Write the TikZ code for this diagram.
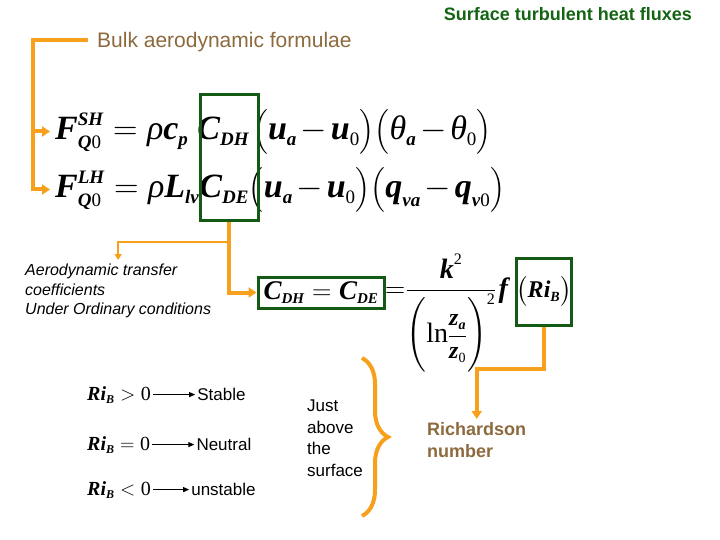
\RequirePackage{fix-cm}
\documentclass[tikz,border=0pt]{standalone}
\usepackage{amsmath}
\usepackage{fontspec}
\setmainfont{Liberation Sans}
\newfontfamily\tms{Liberation Serif}
\usetikzlibrary{arrows.meta,decorations.pathreplacing,positioning}

\definecolor{linkorange}{RGB}{247,160,28}
\definecolor{boxgreen}{RGB}{20,90,20}
\definecolor{titlegreen}{RGB}{20,100,20}
\definecolor{notebrown}{RGB}{140,106,62}

% small scripts, as in the slide
\DeclareMathSizes{34}{34}{19}{14}
\DeclareMathSizes{28}{28}{16}{12}
\DeclareMathSizes{27}{27}{15}{11}
\DeclareMathSizes{24}{24}{14}{10}
\DeclareMathSizes{20}{20}{12}{9}

% bold italic, italic and upright pieces of the formulae
\newcommand{\bv}[1]{\text{\tms\bfseries\itshape #1}}
\newcommand{\iv}[1]{\text{\tms\itshape #1}}
\newcommand{\rv}[1]{\text{\tms #1}}

\begin{document}
\begin{tikzpicture}[x=1pt,y=-1pt,
  linkline/.style={draw=linkorange,line width=4pt},
  thinlink/.style={draw=linkorange,line width=2pt},
  bigtip/.style={-{Triangle[length=8pt,width=10pt]}},
  smalltip/.style={-{Triangle[length=6pt,width=7pt]}},
  greenbox/.style={draw=boxgreen,line width=3pt,inner sep=0pt},
  eqnode/.style={anchor=base west,inner sep=5pt,font=\tms\fontsize{34}{40}\selectfont},
  rinode/.style={anchor=base west,inner sep=2pt,font=\tms\fontsize{20}{24}\selectfont},
  state/.style={inner sep=2pt,font=\fontsize{17}{20}\selectfont}]
\useasboundingbox (0,0) rectangle (720,540);
\medmuskip=2mu

% titles
\node[anchor=base east,inner sep=0pt,font=\bfseries\fontsize{18}{22}\selectfont,
  text=titlegreen] (surf) at (692,21) {Surface turbulent heat fluxes};
\node[anchor=west,inner xsep=9pt,inner ysep=0pt,text depth=0pt,
  font=\fontsize{21}{25}\selectfont,text=notebrown] (bulk) at (88,40)
  {Bulk aerodynamic formulae};

% the two flux formulae
\node[eqnode] (eqsh) at (50,140) {$\bv{F}^{\bv{SH}}_{\bv{Q}\rv{0}} =
  \iv{ρ}\bv{c}_{\bv{p}}\kern9pt\bv{C}_{\bv{DH}}\kern4pt\bigl(\bv{u}_{\bv{a}}-\bv{u}_{\rv{0}}\bigr)
  \bigl(\iv{θ}_{\bv{a}}-\iv{θ}_{\rv{0}}\bigr)$};
\node[eqnode] (eqlh) at (50,198) {$\bv{F}^{\bv{LH}}_{\bv{Q}\rv{0}} =
  \iv{ρ}\bv{L}_{\bv{lv}}\bv{C}_{\bv{DE}}\bigl(\bv{u}_{\bv{a}}-\bv{u}_{\rv{0}}\bigr)
  \bigl(\bv{q}_{\bv{va}}-\bv{q}_{\bv{v}\rv{0}}\bigr)$};
\node[greenbox,minimum width=58pt,minimum height=126pt] (cbox) at (229,158) {};

% transfer coefficients
\node[anchor=north west,inner sep=4pt,align=left,
  font=\itshape\fontsize{16}{19.5}\selectfont] (aero) at (21,260)
  {Aerodynamic transfer\\coefficients\\Under Ordinary conditions};
\node[greenbox,minimum width=126pt,minimum height=31pt,
  font=\tms\fontsize{27}{32}\selectfont] (cdbox) at (321,292.5)
  {$\bv{C}_{\bv{DH}}=\bv{C}_{\bv{DE}}$};
\node[anchor=base west,inner sep=0pt,font=\tms\fontsize{28}{34}\selectfont]
  (fraceq) at (385,297) {$\mathord{=}\dfrac{\bv{k}^{\rv{2}}}
  {\biggl(\rv{ln}\text{\fontsize{24}{28}\selectfont
  $\dfrac{\bv{z}_{\bv{a}}}{\bv{z}_{\rv{0}}}$}\biggr)^{\rv{2}}}\kern2pt\bv{f}$};
\node[greenbox,minimum width=53pt,minimum height=67pt,
  font=\tms\fontsize{24}{30}\selectfont] (ribox) at (544,291.5)
  {$\bigl(\bv{Ri}_{\bv{B}}\bigr)$};

% stability
\node[rinode] (rigt) at (85,400) {$\bv{Ri}_{\bv{B}}>\rv{0}$};
\node[rinode] (rieq) at (85,450) {$\bv{Ri}_{\bv{B}}=\rv{0}$};
\node[rinode] (rilt) at (85,495) {$\bv{Ri}_{\bv{B}}<\rv{0}$};
\node[state,right=42pt of rigt] (stable) {Stable};
\node[state,right=42pt of rieq] (neutral) {Neutral};
\node[state,right=36pt of rilt] (unstable) {unstable};
\node[anchor=north west,inner sep=0pt,align=left,
  font=\fontsize{17}{21.5}\selectfont] (just) at (307,400)
  {Just\\above\\the\\surface};
\node[anchor=north west,inner sep=3pt,align=left,
  font=\bfseries\fontsize{18}{22}\selectfont,text=notebrown] (rich) at (424,419)
  {Richardson\\number};

% connectors
\draw[linkline,bigtip] (bulk.west) -| ([xshift=-17pt]eqlh.west) -- (eqlh.west);
\draw[linkline,bigtip] ([xshift=-17pt]eqlh.west |- eqsh.west) -- (eqsh.west);
\draw[linkline,bigtip] (cbox.south) |- (cdbox.west);
\draw[thinlink,smalltip] ([yshift=-19pt]cbox.south) -| (aero.north);
\draw[linkline,bigtip] (ribox.south) -- ++(0,42) -| (rich.north);
\foreach \a/\b in {rigt/stable,rieq/neutral,rilt/unstable}
  \draw[line width=1.2pt,-{Triangle[length=6pt,width=5pt]}] (\a.east) -- (\b.west);
\draw[linkline,decorate,decoration={brace,amplitude=26pt,aspect=0.5}]
  (362,358) -- (362,516);
\end{tikzpicture}
\end{document}
